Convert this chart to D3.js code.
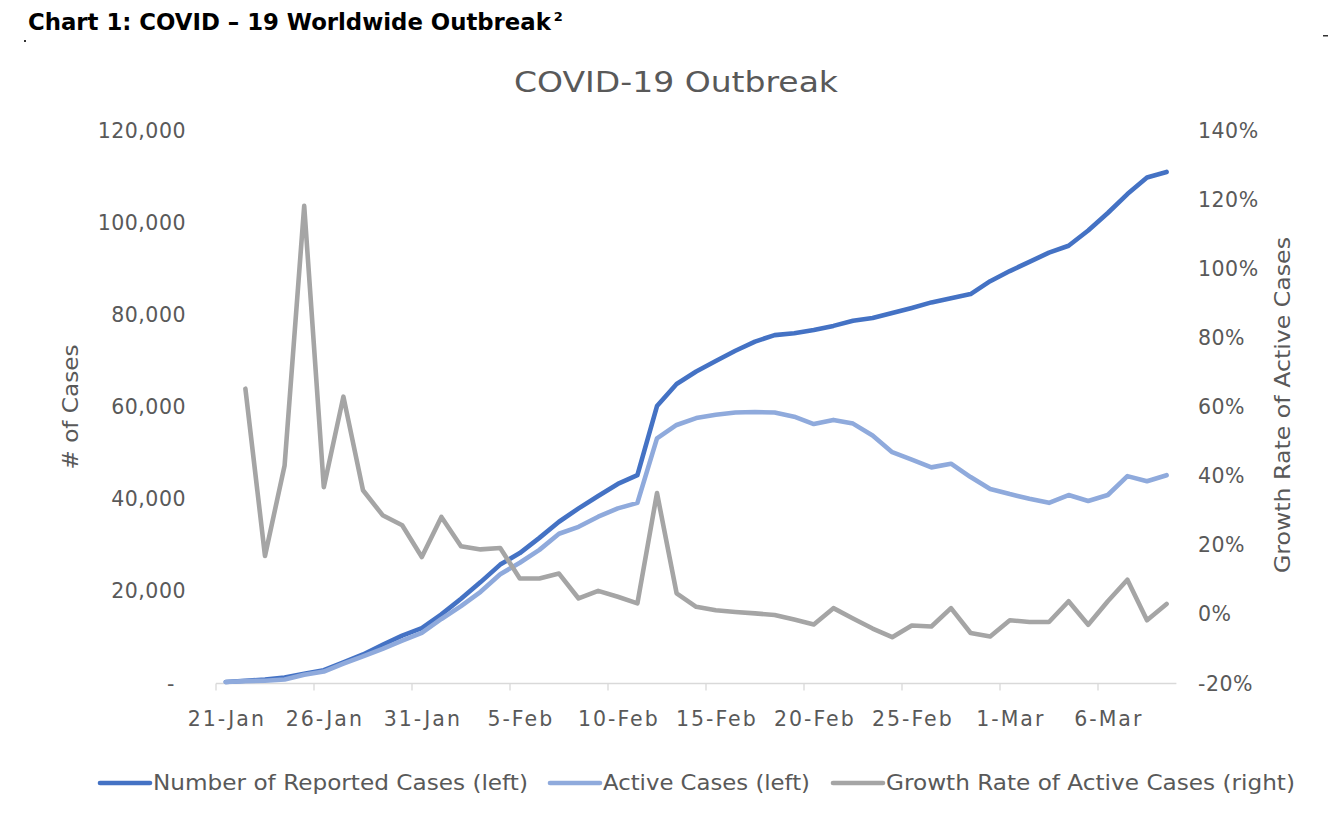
<!DOCTYPE html>
<html><head><meta charset="utf-8">
<script src="https://cdn.jsdelivr.net/npm/d3@7"></script>
<style>
body{margin:0;background:#fff}
svg{display:block}
text{font-family:"DejaVu Sans",sans-serif}
</style>
</head><body>
<svg id="chart" width="1342" height="827"></svg>
<script>
// ---------- data ----------
const categories = [
  "21-Jan","22-Jan","23-Jan","24-Jan","25-Jan","26-Jan","27-Jan","28-Jan","29-Jan","30-Jan","31-Jan",
  "1-Feb","2-Feb","3-Feb","4-Feb","5-Feb","6-Feb","7-Feb","8-Feb","9-Feb","10-Feb",
  "11-Feb","12-Feb","13-Feb","14-Feb","15-Feb","16-Feb","17-Feb","18-Feb","19-Feb","20-Feb",
  "21-Feb","22-Feb","23-Feb","24-Feb","25-Feb","26-Feb","27-Feb","28-Feb","29-Feb",
  "1-Mar","2-Mar","3-Mar","4-Mar","5-Mar","6-Mar","7-Mar","8-Mar","9-Mar"
];
const reportedCases = [
  330, 580, 850, 1300, 2100, 2900, 4600, 6300, 8400, 10400, 12000,
  15000, 18400, 22000, 25800, 28300, 31600, 35100, 38000, 40700, 43300,
  45200, 60200, 65000, 67700, 70000, 72200, 74200, 75600, 76000, 76700,
  77600, 78700, 79300, 80400, 81500, 82700, 83600, 84500, 87300,
  89500, 91500, 93500, 95000, 98300, 102100, 106200, 109800, 111000
];
const activeCases = [
  320, 520, 610, 870, 1900, 2600, 4300, 5900, 7500, 9300, 11000,
  14000, 16800, 19900, 23700, 26200, 29000, 32500, 34000, 36200, 38000,
  39200, 53200, 56100, 57600, 58300, 58800, 58900, 58800, 57900, 56300,
  57200, 56400, 53800, 50200, 48600, 46900, 47700, 44800, 42200,
  41100, 40100, 39200, 40900, 39600, 40900, 45000, 43900, 45200
];
const growthRate = [ // % growth of active cases
  null, 65.3, 16.9, 43.1, 118.2, 36.8, 63.0, 35.9, 28.7, 25.8, 16.6,
  28.2, 19.7, 18.8, 19.2, 10.4, 10.4, 11.8, 4.6, 6.8, 5.1,
  3.2, 35.1, 6.1, 2.2, 1.2, 0.7, 0.3, -0.2, -1.5, -2.9,
  1.8, -1.2, -4.1, -6.6, -3.2, -3.5, 1.8, -5.4, -6.4,
  -1.7, -2.2, -2.2, 3.8, -3.0, 3.8, 10.0, -1.7, 3.0
];
const leftTicks = [0, 20000, 40000, 60000, 80000, 100000, 120000];
const rightTicks = [-20, 0, 20, 40, 60, 80, 100, 120, 140];
const xTickLabels = ["21-Jan","26-Jan","31-Jan","5-Feb","10-Feb","15-Feb","20-Feb","25-Feb","1-Mar","6-Mar"];
const seriesNames = ["Number of Reported Cases (left)", "Active Cases (left)", "Growth Rate of Active Cases (right)"];
const seriesColors = ["#4472C4", "#8FAADC", "#A5A5A5"];

// ---------- layout ----------
const svg = d3.select("#chart");
const X0 = 216, X1 = 1176.4, Y0 = 683.5, Y1 = 130.5;
const textColor = "#595959";

const x = d3.scaleBand().domain(categories).range([X0, X1]).padding(0);
const cx = c => x(c) + x.bandwidth() / 2;
const yL = d3.scaleLinear().domain([0, 120000]).range([Y0, Y1]);
const yR = d3.scaleLinear().domain([-20, 140]).range([Y0, Y1]);

// header
const hdr = svg.append("text").attr("x", 28).attr("y", 30)
  .attr("font-family", "Liberation Sans, Arial, sans-serif")
  .attr("font-size", 22.8).attr("font-weight", "bold").attr("fill", "#000")
  .text("Chart 1: COVID \u2013 19 Worldwide Outbreak");
const hdrW = hdr.node().getComputedTextLength();
svg.append("text").attr("x", 28 + hdrW + 3).attr("y", 21)
  .attr("font-family", "Liberation Sans, Arial, sans-serif")
  .attr("font-size", 13).attr("font-weight", "bold").attr("fill", "#000")
  .text("2");
svg.append("rect").attr("x", 24).attr("y", 40).attr("width", 2).attr("height", 2).attr("fill", "#333");
svg.append("rect").attr("x", 1323).attr("y", 35).attr("width", 5).attr("height", 1.5).attr("fill", "#333");

// chart title
svg.append("text").attr("x", 676).attr("y", 92).attr("text-anchor", "middle")
  .attr("font-size", 29).attr("fill", textColor)
  .attr("textLength", 324).attr("lengthAdjust", "spacingAndGlyphs")
  .text("COVID-19 Outbreak");

// x axis
const xAxis = d3.axisBottom(x)
  .tickValues(categories.filter((c, i) => i % 5 === 0))
  .tickSize(0).tickPadding(0)
  .tickFormat(c => xTickLabels.includes(c) ? c : "");
const gx = svg.append("g").attr("transform", `translate(0,${Y0})`).call(xAxis);
gx.select(".domain").remove();
gx.selectAll(".tick line").remove();
gx.selectAll(".tick text").attr("y", 42).attr("dy", 0).attr("dx", 1)
  .attr("font-size", 20.5).attr("letter-spacing", 2).attr("fill", textColor)
  .attr("font-family", "DejaVu Sans");
svg.append("line").attr("x1", X0).attr("x2", X1).attr("y1", Y0).attr("y2", Y0)
  .attr("stroke", "#D9D9D9").attr("stroke-width", 1.3);
svg.append("g").selectAll("line")
  .data(categories.filter((c, i) => i % 5 === 0))
  .join("line")
  .attr("x1", c => x(c)).attr("x2", c => x(c))
  .attr("y1", Y0).attr("y2", Y0 + 7)
  .attr("stroke", "#D9D9D9").attr("stroke-width", 1.3);

// left axis
const gl = svg.append("g").attr("transform", "translate(186,0)")
  .call(d3.axisLeft(yL).tickValues(leftTicks).tickSize(0).tickPadding(0)
    .tickFormat(v => v === 0 ? "-" : d3.format(",")(v)));
gl.select(".domain").remove();
gl.selectAll(".tick text").attr("font-size", 20.5).attr("letter-spacing", 0.5)
  .attr("fill", textColor).attr("font-family", "DejaVu Sans")
  .attr("x", v => v === 0 ? -11 : 0);

// right axis
const gr = svg.append("g").attr("transform", "translate(1198,0)")
  .call(d3.axisRight(yR).tickValues(rightTicks).tickSize(0).tickPadding(0)
    .tickFormat(v => v + "%"));
gr.select(".domain").remove();
gr.selectAll(".tick text").attr("font-size", 20.5).attr("letter-spacing", 0.5)
  .attr("fill", textColor).attr("font-family", "DejaVu Sans");

// axis titles
svg.append("text").attr("transform", "translate(78,407) rotate(-90)")
  .attr("text-anchor", "middle").attr("font-size", 21).attr("fill", textColor)
  .attr("textLength", 125).attr("lengthAdjust", "spacingAndGlyphs")
  .text("# of Cases");
svg.append("text").attr("transform", "translate(1290,405) rotate(-90)")
  .attr("text-anchor", "middle").attr("font-size", 21).attr("fill", textColor)
  .attr("textLength", 336).attr("lengthAdjust", "spacingAndGlyphs")
  .text("Growth Rate of Active Cases");

// lines
const lineL = d3.line().x((d, i) => cx(categories[i])).y(d => yL(d));
const lineR = d3.line().defined(d => d != null).x((d, i) => cx(categories[i])).y(d => yR(d));
const plot = svg.append("g").attr("fill", "none").attr("stroke-width", 4.6)
  .attr("stroke-linejoin", "round").attr("stroke-linecap", "round");
plot.append("path").attr("d", lineL(reportedCases)).attr("stroke", seriesColors[0]);
plot.append("path").attr("d", lineL(activeCases)).attr("stroke", seriesColors[1]);
plot.append("path").attr("d", lineR(growthRate)).attr("stroke", seriesColors[2]);

// legend
const legendX = [100, 550, 833];
const legendW = [375, 207, 409];
const lg = svg.append("g");
seriesNames.forEach((name, i) => {
  lg.append("line").attr("x1", legendX[i]).attr("x2", legendX[i] + 50)
    .attr("y1", 783).attr("y2", 783)
    .attr("stroke", seriesColors[i]).attr("stroke-width", 4.6).attr("stroke-linecap", "round");
  lg.append("text").attr("x", legendX[i] + 53).attr("y", 790)
    .attr("font-size", 20.5).attr("fill", textColor)
    .attr("textLength", legendW[i]).attr("lengthAdjust", "spacingAndGlyphs")
    .text(name);
});
</script>
</body></html>
